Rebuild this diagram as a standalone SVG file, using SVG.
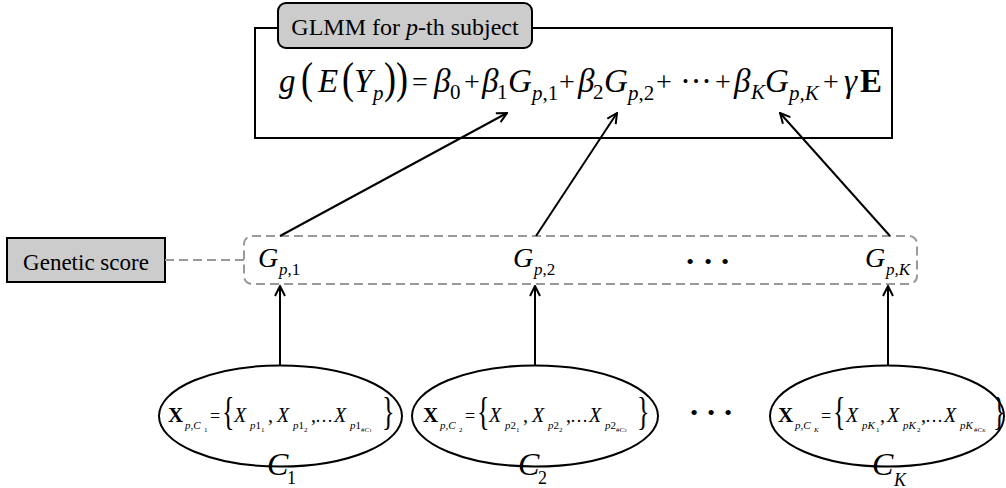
<svg xmlns="http://www.w3.org/2000/svg" width="1006" height="488" viewBox="0 0 1006 488" font-family="'Liberation Serif', 'Times New Roman', 'DejaVu Serif', serif">
<style>
text{font-family:'Liberation Serif','Times New Roman','DejaVu Serif',serif;fill:#000}
.i{font-style:italic}
.b{font-weight:bold}
.box{fill:none;stroke:#000;stroke-width:2}
.lab{fill:#cccccc;stroke:#000;stroke-width:2}
.dash{fill:none;stroke:#999;stroke-width:2;stroke-dasharray:9 5}
.arr{fill:none;stroke:#000;stroke-width:2;marker-end:url(#ah)}
.ell{fill:none;stroke:#000;stroke-width:2}
.f{font-size:33px}
.op{font-size:28px}
.fs{font-size:21px}
.par{font-size:36px}
.et{font-size:20px}
.es{font-size:11px}
.ess{font-size:7px}
</style>
<defs>
<marker id="ah" viewBox="0 0 12 12" refX="11" refY="6" markerWidth="12" markerHeight="12" orient="auto" markerUnits="userSpaceOnUse">
<path d="M1,1 L11,6 L1,11" fill="none" stroke="#000" stroke-width="2"/>
</marker>
</defs>

<g id="glmm">
<rect class="box" x="255" y="28" width="637" height="110"/>
<rect class="lab" x="278" y="3" width="254" height="45" rx="8"/>
<text x="405" y="35" font-size="24" text-anchor="middle">GLMM for <tspan class="i">p</tspan>-th subject</text>
<g id="formula">
<text class="f i" x="279" y="92">g</text>
<text class="par" transform="translate(301,93) scale(1,1.25)">(</text>
<text class="f i" x="318" y="92">E</text>
<text class="par" transform="translate(342,93) scale(1,1.25)">(</text>
<text class="f i" x="354" y="92">Y</text>
<text class="fs i" x="373" y="100">p</text>
<text class="par" transform="translate(384,93) scale(1,1.25)">)</text>
<text class="par" transform="translate(396,93) scale(1,1.25)">)</text>
<text class="op" x="412" y="91">=</text>
<text class="f i" x="434" y="92">β</text>
<text class="fs" x="450" y="99">0</text>
<text class="op" x="464" y="91">+</text>
<text class="f i" x="482" y="92">β</text>
<text class="fs" x="497" y="99">1</text>
<text class="f i" x="508" y="92">G</text>
<text class="fs" x="532" y="100"><tspan class="i">p</tspan>,1</text>
<text class="op" x="559" y="91">+</text>
<text class="f i" x="578" y="92">β</text>
<text class="fs" x="593" y="99">2</text>
<text class="f i" x="604" y="92">G</text>
<text class="fs" x="628" y="100"><tspan class="i">p</tspan>,2</text>
<text class="op" x="656" y="91">+</text>
<text class="f" x="680" y="92" textLength="32" lengthAdjust="spacing">···</text>
<text class="op" x="715" y="91">+</text>
<text class="f i" x="734" y="92">β</text>
<text class="fs i" x="751" y="99">K</text>
<text class="f i" x="765" y="92">G</text>
<text class="fs i" x="789" y="100">p,K</text>
<text class="op" x="823" y="91">+</text>
<text class="f i" x="844" y="92">γ</text>
<text class="f b" x="860" y="92">E</text>
</g>
</g>

<g id="genetic-score">
<rect class="lab" x="7" y="238" width="158" height="44"/>
<text x="86" y="270" font-size="23" text-anchor="middle">Genetic score</text>
</g>

<g id="scores">
<rect class="dash" x="244" y="236" width="673" height="48" rx="8"/>
<text class="i" x="258" y="267" font-size="28">G</text>
<text x="279" y="275" font-size="17"><tspan class="i">p</tspan>,1</text>
<text class="i" x="513" y="267" font-size="28">G</text>
<text x="534" y="275" font-size="17"><tspan class="i">p</tspan>,2</text>
<text x="690" y="269" font-size="22" text-anchor="middle">•</text>
<text x="708" y="269" font-size="22" text-anchor="middle">•</text>
<text x="725" y="269" font-size="22" text-anchor="middle">•</text>
<text class="i" x="865" y="267" font-size="28">G</text>
<text class="i" x="886" y="275" font-size="17">p,K</text>
</g>

<g id="cluster-1">
<ellipse class="ell" cx="280.5" cy="416" rx="121.5" ry="50.5"/>
<g transform="translate(168,0)">
<text class="b" x="0" y="422" font-size="21">X</text>
<text class="es i" x="17" y="429">p,C</text>
<text class="ess" x="36" y="432">1</text>
<text x="42" y="422" font-size="18">=</text>
<text transform="translate(54,425) scale(1,1.5)" font-size="26">{</text>
<text class="et i" x="66" y="422">X</text>
<text class="es" x="82" y="429"><tspan class="i">p</tspan>1</text>
<text class="ess" x="93" y="432">1</text>
<text class="et" x="100" y="422">,</text>
<text class="et i" x="109" y="422">X</text>
<text class="es" x="125" y="429"><tspan class="i">p</tspan>1</text>
<text class="ess" x="136" y="432">2</text>
<text class="et" x="143" y="422">,</text>
<text x="147" y="422" font-size="18">…</text>
<text class="et i" x="166" y="422">X</text>
<text class="es" x="182" y="429"><tspan class="i">p</tspan>1</text>
<text class="ess" x="193" y="432">#<tspan class="i">C</tspan><tspan font-size="5">1</tspan></text>
<text transform="translate(214,425) scale(1,1.5)" font-size="26">}</text>
</g>
<text class="i" x="267" y="475" font-size="32">C</text>
<text x="287" y="484" font-size="18">1</text>
</g>

<g id="cluster-2">
<ellipse class="ell" cx="535" cy="416" rx="123" ry="50.5"/>
<g transform="translate(423,0)">
<text class="b" x="0" y="422" font-size="21">X</text>
<text class="es i" x="17" y="429">p,C</text>
<text class="ess" x="36" y="432">2</text>
<text x="42" y="422" font-size="18">=</text>
<text transform="translate(54,425) scale(1,1.5)" font-size="26">{</text>
<text class="et i" x="66" y="422">X</text>
<text class="es" x="82" y="429"><tspan class="i">p</tspan>2</text>
<text class="ess" x="93" y="432">1</text>
<text class="et" x="100" y="422">,</text>
<text class="et i" x="109" y="422">X</text>
<text class="es" x="125" y="429"><tspan class="i">p</tspan>2</text>
<text class="ess" x="136" y="432">2</text>
<text class="et" x="143" y="422">,</text>
<text x="147" y="422" font-size="18">…</text>
<text class="et i" x="166" y="422">X</text>
<text class="es" x="182" y="429"><tspan class="i">p</tspan>2</text>
<text class="ess" x="193" y="432">#<tspan class="i">C</tspan><tspan font-size="5">2</tspan></text>
<text transform="translate(214,425) scale(1,1.5)" font-size="26">}</text>
</g>
<text class="i" x="518" y="475" font-size="32">C</text>
<text x="538" y="484" font-size="18">2</text>
</g>

<g id="dots-bottom">
<text x="694" y="420" font-size="22" text-anchor="middle">•</text>
<text x="711" y="420" font-size="22" text-anchor="middle">•</text>
<text x="728" y="420" font-size="22" text-anchor="middle">•</text>
</g>

<g id="cluster-K">
<ellipse class="ell" cx="887" cy="416" rx="117" ry="50.5"/>
<g transform="translate(778,0)">
<text class="b" x="0" y="422" font-size="21">X</text>
<text class="es i" x="17" y="429">p,C</text>
<text class="ess i" x="36" y="432">K</text>
<text x="43" y="422" font-size="18">=</text>
<text transform="translate(55,425) scale(1,1.5)" font-size="26">{</text>
<text class="et i" x="68" y="422">X</text>
<text class="es i" x="84" y="429">pK</text>
<text class="ess" x="98" y="432">1</text>
<text class="et" x="102" y="422">,</text>
<text class="et i" x="109" y="422">X</text>
<text class="es i" x="125" y="429">pK</text>
<text class="ess" x="139" y="432">2</text>
<text class="et" x="143" y="422">,</text>
<text x="147" y="422" font-size="18">…</text>
<text class="et i" x="166" y="422">X</text>
<text class="es i" x="182" y="429">pK</text>
<text class="ess" x="196" y="432">#<tspan class="i">C</tspan><tspan class="i" font-size="5">K</tspan></text>
<text transform="translate(215,425) scale(1,1.5)" font-size="26">}</text>
</g>
<text class="i" x="872" y="475" font-size="32">C</text>
<text class="i" x="894" y="486" font-size="18">K</text>
</g>

<g id="connectors">
<line class="dash" x1="165" y1="260" x2="244" y2="260"/>
<line class="arr" x1="280" y1="236" x2="507" y2="113"/>
<line class="arr" x1="536" y1="236" x2="617" y2="113"/>
<line class="arr" x1="890" y1="236" x2="780" y2="113"/>
<line class="arr" x1="280" y1="365.5" x2="280" y2="286"/>
<line class="arr" x1="535" y1="365.5" x2="535" y2="286"/>
<line class="arr" x1="888" y1="365.5" x2="888" y2="286"/>
</g>
</svg>
